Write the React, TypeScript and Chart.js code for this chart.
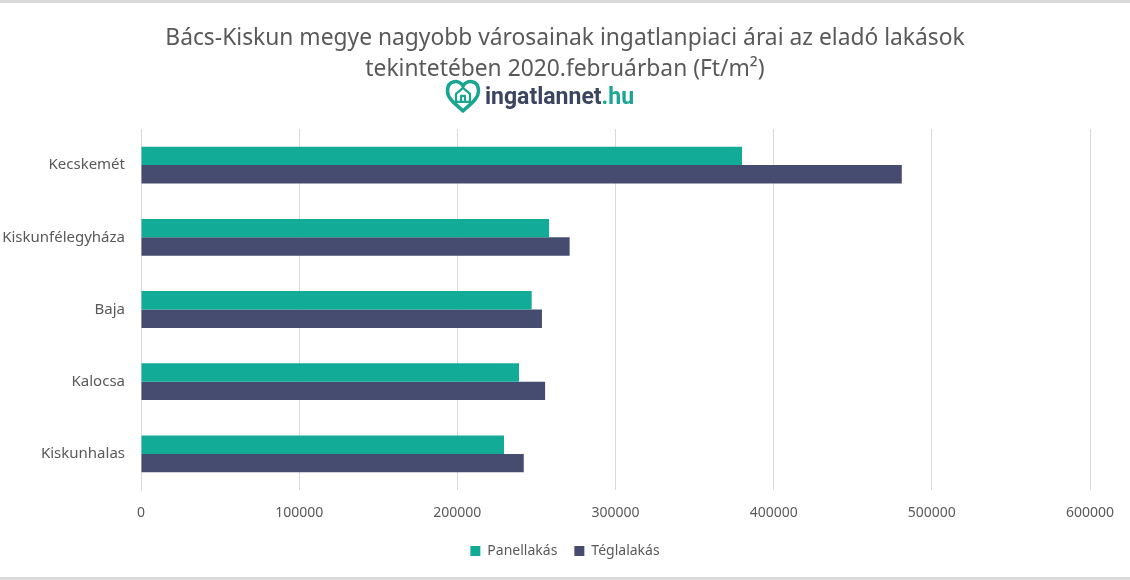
import { Chart, registerables, type ChartConfiguration, type Plugin } from "chart.js";
import { useEffect, useRef } from "react";

Chart.register(...registerables);

const cities = ["Kecskemét", "Kiskunfélegyháza", "Baja", "Kalocsa", "Kiskunhalas"];
const panelPrices = [380000, 258000, 247000, 239000, 229500];
const teglaPrices = [481000, 271000, 253500, 255500, 242000];
const seriesNames = ["Panellakás", "Téglalakás"];
const titleLines = [
  "Bács-Kiskun megye nagyobb városainak ingatlanpiaci árai az eladó lakások",
  "tekintetében 2020.februárban (Ft/m²)",
];
const logoMain = "ingatlannet";
const logoTld = ".hu";

const TEAL = "#12ab97";
const NAVY = "#464b70";
const GREY_TEXT = "#595959";
const GRID = "#d9d9d9";

/** Draws the ingatlannet.hu logo under the title. */
const logoPlugin: Plugin<"bar"> = {
  id: "logo",
  afterDraw(chart) {
    const { ctx } = chart;
    const cx = 463;
    const top = 77;
    const w = 31;
    const h = 31;
    ctx.save();
    // heart outline
    ctx.strokeStyle = "#1aa590";
    ctx.lineWidth = 3.5;
    ctx.lineJoin = "round";
    ctx.beginPath();
    ctx.moveTo(cx, top + h * 0.2);
    ctx.bezierCurveTo(cx - w * 0.12, top - h * 0.02, cx - w * 0.5, top - h * 0.02, cx - w * 0.5, top + h * 0.36);
    ctx.bezierCurveTo(cx - w * 0.5, top + h * 0.62, cx - w * 0.2, top + h * 0.8, cx, top + h);
    ctx.bezierCurveTo(cx + w * 0.2, top + h * 0.8, cx + w * 0.5, top + h * 0.62, cx + w * 0.5, top + h * 0.36);
    ctx.bezierCurveTo(cx + w * 0.5, top - h * 0.02, cx + w * 0.12, top - h * 0.02, cx, top + h * 0.2);
    ctx.closePath();
    ctx.stroke();
    // house inside
    const hy = top + h * 0.48;
    ctx.lineWidth = 2.2;
    ctx.beginPath();
    ctx.moveTo(cx - 7, hy + 7);
    ctx.lineTo(cx - 7, hy - 1);
    ctx.lineTo(cx, hy - 7);
    ctx.lineTo(cx + 7, hy - 1);
    ctx.lineTo(cx + 7, hy + 7);
    ctx.closePath();
    ctx.stroke();
    ctx.beginPath();
    ctx.moveTo(cx - 2, hy + 7);
    ctx.lineTo(cx - 2, hy + 1);
    ctx.lineTo(cx + 2, hy + 1);
    ctx.lineTo(cx + 2, hy + 7);
    ctx.stroke();
    // text
    ctx.font = "bold 23px Roboto";
    ctx.textBaseline = "alphabetic";
    ctx.textAlign = "left";
    ctx.fillStyle = "#3c4560";
    const x0 = 485;
    const base = 101;
    ctx.fillText(logoMain, x0, base);
    const mw = ctx.measureText(logoMain).width;
    ctx.fillStyle = "#1aa590";
    ctx.fillText(logoTld, x0 + mw, base);
    ctx.restore();
  },
};

const config: ChartConfiguration<"bar"> = {
  type: "bar",
  data: {
    labels: cities,
    datasets: [
      { label: seriesNames[0], data: panelPrices, backgroundColor: TEAL },
      { label: seriesNames[1], data: teglaPrices, backgroundColor: NAVY },
    ],
  },
  options: {
    indexAxis: "y",
    animation: false,
    responsive: true,
    maintainAspectRatio: false,
    datasets: { bar: { categoryPercentage: 0.51, barPercentage: 1 } },
    layout: { padding: { left: 0, right: 0, top: 0, bottom: 9 } },
    scales: {
      x: {
        min: 0,
        max: 600000,
        ticks: {
          stepSize: 100000,
          color: GREY_TEXT,
          font: { family: "Noto Sans", size: 14 },
          padding: 15,
          callback: (value) => String(value),
        },
        grid: { color: GRID, drawTicks: false },
        border: { display: false },
        afterFit(scale) {
          scale.height = 37;
        },
      },
      y: {
        ticks: { color: GREY_TEXT, font: { family: "Noto Sans", size: 15 }, padding: 16 },
        grid: { display: false, drawTicks: false },
        border: { color: GRID },
        afterFit(scale) {
          scale.width = 141;
        },
      },
      // empty right-hand margin, so the title and legend stay centred on the whole canvas
      yRight: {
        type: "category",
        position: "right",
        ticks: { display: false },
        grid: { display: false, drawTicks: false },
        border: { display: false },
        afterFit(scale) {
          scale.width = 40;
        },
      },
    },
    plugins: {
      title: {
        display: true,
        text: titleLines,
        color: GREY_TEXT,
        font: { family: "Noto Sans", size: 22.8, weight: "normal", lineHeight: 1.36 },
        padding: { top: 20, bottom: 44 },
      },
      legend: {
        position: "bottom",
        labels: {
          color: GREY_TEXT,
          font: { family: "Noto Sans", size: 14 },
          boxWidth: 10,
          boxHeight: 10,
          padding: 17,
        },
      },
      tooltip: { enabled: false },
    },
  },
  plugins: [logoPlugin],
};

export default function App() {
  const canvasRef = useRef<HTMLCanvasElement>(null);

  useEffect(() => {
    if (!canvasRef.current) {
      return undefined;
    }
    const chart = new Chart(canvasRef.current, config);
    return () => chart.destroy();
  }, []);

  return (
    <div
      style={{
        position: "absolute",
        left: 0,
        top: 0,
        width: 1130,
        height: 580,
        boxSizing: "border-box",
        borderTop: "3px solid #d9d9d9",
        borderBottom: "3px solid #d9d9d9",
        background: "#fff",
      }}
    >
      <div style={{ position: "relative", width: 1130, height: 574 }}>
        <canvas ref={canvasRef} />
      </div>
    </div>
  );
}
